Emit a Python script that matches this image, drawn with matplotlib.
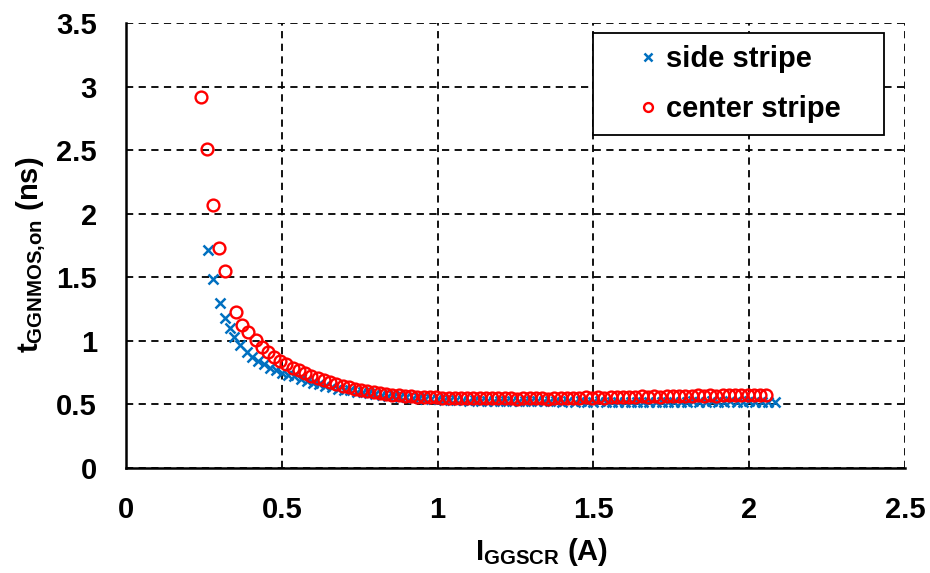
import matplotlib
matplotlib.use("Agg")
import matplotlib.pyplot as plt
from matplotlib.patches import Rectangle
from matplotlib.ticker import FuncFormatter

plt.rcParams['font.family'] = ['Liberation Sans', 'DejaVu Sans']
plt.rcParams['font.weight'] = 'bold'
plt.rcParams['mathtext.fontset'] = 'custom'
plt.rcParams['mathtext.bf'] = 'Liberation Sans:bold'
plt.rcParams['mathtext.rm'] = 'Liberation Sans:bold'
plt.rcParams['mathtext.default'] = 'bf'

# side stripe
x_side = [0.262, 0.280, 0.302, 0.318, 0.333, 0.348, 0.366, 0.387, 0.405, 0.424,
          0.443, 0.462, 0.481, 0.500, 0.520, 0.540, 0.560, 0.580, 0.600, 0.620,
          0.640, 0.660, 0.680, 0.700, 0.720, 0.740, 0.760, 0.780, 0.800, 0.820,
          0.840, 0.860, 0.880, 0.900, 0.920, 0.940, 0.960, 0.980, 1.000, 1.020,
          1.040, 1.060, 1.080, 1.100, 1.120, 1.140, 1.160, 1.180, 1.200, 1.220,
          1.240, 1.260, 1.280, 1.300, 1.320, 1.340, 1.360, 1.380, 1.400, 1.420,
          1.440, 1.460, 1.480, 1.500, 1.520, 1.540, 1.560, 1.580, 1.600, 1.620,
          1.640, 1.660, 1.680, 1.700, 1.720, 1.740, 1.760, 1.780, 1.800, 1.820,
          1.840, 1.860, 1.880, 1.900, 1.920, 1.940, 1.960, 1.980, 2.000, 2.020,
          2.040, 2.060, 2.083]
y_side = [1.715, 1.49, 1.30, 1.18, 1.10, 1.03, 0.97, 0.915, 0.875, 0.84,
          0.815, 0.79, 0.77, 0.75, 0.735, 0.72, 0.70, 0.685, 0.67, 0.66,
          0.645, 0.635, 0.625, 0.615, 0.61, 0.60, 0.595, 0.59, 0.58, 0.575,
          0.57, 0.565, 0.56, 0.555, 0.55, 0.548, 0.545, 0.54, 0.54, 0.538,
          0.535, 0.535, 0.532, 0.530, 0.532, 0.528, 0.530, 0.527, 0.530, 0.528,
          0.526, 0.529, 0.527, 0.525, 0.528, 0.524, 0.526, 0.527, 0.523, 0.525,
          0.522, 0.526, 0.521, 0.520, 0.524, 0.519, 0.522, 0.520, 0.518, 0.523,
          0.519, 0.521, 0.517, 0.522, 0.520, 0.518, 0.523, 0.521, 0.519, 0.524,
          0.520, 0.522, 0.526, 0.521, 0.523, 0.527, 0.522, 0.520, 0.524, 0.521,
          0.519, 0.522, 0.518]

# center stripe
x_center = [0.240, 0.259, 0.278, 0.298, 0.319, 0.353, 0.371, 0.393, 0.417, 0.435,
            0.455, 0.475, 0.495, 0.515, 0.535, 0.555, 0.575, 0.595, 0.615, 0.635,
            0.655, 0.675, 0.695, 0.715, 0.735, 0.755, 0.775, 0.795, 0.815, 0.835,
            0.855, 0.875, 0.895, 0.915, 0.935, 0.955, 0.975, 0.995, 1.015, 1.035,
            1.055, 1.075, 1.095, 1.115, 1.135, 1.155, 1.175, 1.195, 1.215, 1.235,
            1.255, 1.275, 1.295, 1.315, 1.335, 1.355, 1.375, 1.395, 1.415, 1.435,
            1.455, 1.475, 1.495, 1.515, 1.535, 1.555, 1.575, 1.595, 1.615, 1.635,
            1.655, 1.675, 1.695, 1.715, 1.735, 1.755, 1.775, 1.795, 1.815, 1.835,
            1.855, 1.875, 1.895, 1.915, 1.935, 1.955, 1.975, 1.995, 2.015, 2.035,
            2.055]
y_center = [2.92, 2.51, 2.07, 1.73, 1.55, 1.23, 1.125, 1.07, 1.007, 0.95,
            0.91, 0.875, 0.845, 0.815, 0.79, 0.77, 0.745, 0.725, 0.705, 0.69,
            0.675, 0.66, 0.645, 0.635, 0.625, 0.615, 0.605, 0.598, 0.59, 0.585,
            0.578, 0.572, 0.568, 0.563, 0.560, 0.558, 0.556, 0.555, 0.553, 0.552,
            0.551, 0.553, 0.550, 0.549, 0.552, 0.548, 0.550, 0.547, 0.551, 0.549,
            0.546, 0.550, 0.548, 0.547, 0.549, 0.546, 0.550, 0.552, 0.549, 0.553,
            0.551, 0.555, 0.553, 0.557, 0.554, 0.558, 0.556, 0.560, 0.562, 0.558,
            0.563, 0.560, 0.564, 0.562, 0.566, 0.563, 0.567, 0.565, 0.569, 0.571,
            0.568, 0.572, 0.570, 0.574, 0.572, 0.575, 0.571, 0.576, 0.573, 0.575,
            0.572]

fig = plt.figure(figsize=(9.3, 5.73), dpi=100)
ax = fig.add_axes([0.1355, 0.1832, 0.8376, 0.7767])

ax.plot(x_side, y_side, linestyle='none', marker='x', color='#0070C0',
        markersize=7, markeredgewidth=1.8, label='side stripe')
ax.plot(x_center, y_center, linestyle='none', marker='o', markerfacecolor='none',
        markeredgecolor='#FF0000', markersize=8.5, markeredgewidth=1.7,
        label='center stripe')

ax.set_xlim(0, 2.5)
ax.set_ylim(0, 3.5)
ax.set_xticks([0, 0.5, 1, 1.5, 2, 2.5])
ax.set_yticks([0, 0.5, 1, 1.5, 2, 2.5, 3, 3.5])
fmt = FuncFormatter(lambda v, p: '%g' % v)
ax.xaxis.set_major_formatter(fmt)
ax.yaxis.set_major_formatter(fmt)
ax.tick_params(length=0, labelsize=21)
ax.tick_params(axis='y', pad=21)
ax.tick_params(axis='x', pad=20)

ax.grid(True, color='black', linestyle=(0, (4, 3)), linewidth=1.3)
ax.set_axisbelow(True)
for s in ['top', 'right']:
    ax.spines[s].set_visible(False)
for s in ['left', 'bottom']:
    ax.spines[s].set_linewidth(1.8)

ax.set_xlabel(r'$I_{GGSCR}$ (A)', fontsize=21, fontweight='bold')
ax.set_ylabel(r'$t_{GGNMOS{,}on}$ (ns)', fontsize=21, fontweight='bold')
ax.xaxis.set_label_coords(0.534, -0.152)
ax.yaxis.set_label_coords(-0.10, 0.48)

# legend box as in the reference (Excel style, roomy frame)
box_x0, box_x1 = 0.5995, 0.973
box_y0, box_y1 = 0.748, 0.9775
ax.add_patch(Rectangle((box_x0, box_y0), box_x1 - box_x0, box_y1 - box_y0,
                       transform=ax.transAxes, facecolor='white',
                       edgecolor='black', linewidth=1.3, zorder=5))
leg = ax.legend(loc='center', bbox_to_anchor=((box_x0 + box_x1) / 2,
                                               (box_y0 + box_y1) / 2),
                fontsize=21, frameon=False, handlelength=0.8,
                handletextpad=0.2, labelspacing=0.75, borderpad=0,
                markerscale=0.75)
leg.set_zorder(6)

fig.savefig('out.png', dpi=100)
